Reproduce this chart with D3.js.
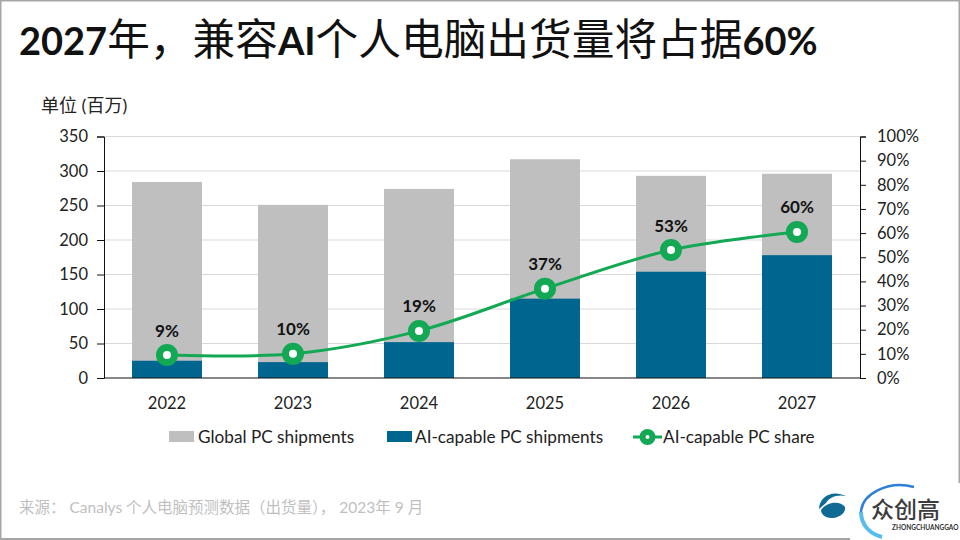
<!DOCTYPE html>
<html>
<head>
<meta charset="utf-8">
<script src="https://cdn.jsdelivr.net/npm/d3@7"></script>
<style>
  html, body { margin: 0; padding: 0; background: #fff; overflow: hidden; }
  text { font-family: Lato, "Noto Sans CJK SC", sans-serif; }
</style>
</head>
<body>
<div class="chart"></div>
<script>
const years = ["2022", "2023", "2024", "2025", "2026", "2027"]
const globalShipments = [284, 251, 274, 317, 293, 296]
const aiShipments = [25, 23, 52, 115, 154, 178]
const aiShare = [9.5, 10, 19.5, 37, 53, 60.5]
const shareLabels = ["9%", "10%", "19%", "37%", "53%", "60%"]
const leftTicks = [0, 50, 100, 150, 200, 250, 300, 350]
const rightTicks = [0, 10, 20, 30, 40, 50, 60, 70, 80, 90, 100]

const grey = "#bfbfbf"
const blue = "#00668f"
const green = "#12a854"

const svg = d3.select(".chart")
    .append("svg")
    .attr("width", 960)
    .attr("height", 540)

const x = d3.scaleBand().domain(years).range([104, 860]).paddingInner(0.4444).paddingOuter(0.2222)
const yLeft = d3.scaleLinear().domain([0, 350]).range([378, 136.5])
const yRight = d3.scaleLinear().domain([0, 100]).range([378, 136.5])

// page frame, the logo box sits over the bottom right corner
const frame = svg.append("g").attr("fill", "#a6a6a6")
frame.append("rect").attr("x", 0).attr("y", 0).attr("width", 1.5).attr("height", 540)
frame.append("rect").attr("x", 0).attr("y", 0).attr("width", 960).attr("height", 1.5)
frame.append("rect").attr("x", 0).attr("y", 538).attr("width", 850).attr("height", 2)
frame.append("rect").attr("x", 958.5).attr("y", 0).attr("width", 1.5).attr("height", 483)

// title
const title = svg.append("text")
    .attr("x", 19).attr("y", 55)
    .attr("fill", "#111")
const titleParts = [["2027", true], ["年，兼容", false], ["AI", true], ["个人电脑出货量将占据", false], ["60%", true]]
title.selectAll("tspan").data(titleParts).join("tspan")
    .attr("font-weight", d => d[1] ? 700 : 400)
    .attr("font-size", d => d[1] ? 38 : 42.7)
    .text(d => d[0])

svg.append("text").attr("x", 41).attr("y", 112)
    .attr("font-size", 18).attr("fill", "#222")
    .text("单位 (百万)")

// gridlines
svg.append("g").selectAll("line").data(leftTicks.slice(1)).join("line")
    .attr("x1", 104).attr("x2", 860)
    .attr("y1", d => yLeft(d)).attr("y2", d => yLeft(d))
    .attr("stroke", "#d9d9d9").attr("stroke-width", 1)

// bars
svg.append("g").selectAll("rect").data(years).join("rect")
    .attr("x", d => x(d)).attr("width", x.bandwidth())
    .attr("y", (d, i) => yLeft(globalShipments[i]))
    .attr("height", (d, i) => yLeft(0) - yLeft(globalShipments[i]))
    .attr("fill", grey)
svg.append("g").selectAll("rect").data(years).join("rect")
    .attr("x", d => x(d)).attr("width", x.bandwidth())
    .attr("y", (d, i) => yLeft(aiShipments[i]))
    .attr("height", (d, i) => yLeft(0) - yLeft(aiShipments[i]))
    .attr("fill", blue)

// axes
const leftAxis = svg.append("g").attr("transform", "translate(104,0)")
    .call(d3.axisLeft(yLeft).tickValues(leftTicks).tickSize(7).tickPadding(9))
leftAxis.select(".domain").attr("stroke", "#111")
leftAxis.selectAll("line").attr("stroke", "#111")
leftAxis.selectAll("text").attr("font-size", 16.5).attr("fill", "#222").style("font-family", "Lato")

const rightAxis = svg.append("g").attr("transform", "translate(860,0)")
    .call(d3.axisRight(yRight).tickValues(rightTicks).tickFormat(d => d + "%").tickSize(6).tickPadding(11))
rightAxis.select(".domain").attr("stroke", "#111")
rightAxis.selectAll("line").attr("stroke", "#111")
rightAxis.selectAll("text").attr("font-size", 16.5).attr("fill", "#222").style("font-family", "Lato")

const bottomAxis = svg.append("g").attr("transform", "translate(0,378)")
    .call(d3.axisBottom(x).tickSize(0).tickPadding(19))
bottomAxis.select(".domain").attr("stroke", "#111").attr("d", "M104,0H860")
bottomAxis.selectAll("text").attr("font-size", 16.5).attr("fill", "#222").style("font-family", "Lato")

// share line
const line = d3.line()
    .x((d, i) => x(years[i]) + x.bandwidth() / 2)
    .y(d => yRight(d))
    .curve(d3.curveCatmullRom)
svg.append("path").datum(aiShare)
    .attr("d", line)
    .attr("fill", "none").attr("stroke", green).attr("stroke-width", 3)

svg.append("g").selectAll("circle").data(aiShare).join("circle")
    .attr("cx", (d, i) => x(years[i]) + x.bandwidth() / 2)
    .attr("cy", d => yRight(d))
    .attr("r", 7.5).attr("fill", "#fff").attr("stroke", green).attr("stroke-width", 7)

svg.append("g").selectAll("text").data(aiShare).join("text")
    .attr("x", (d, i) => x(years[i]) + x.bandwidth() / 2)
    .attr("y", d => yRight(d) - 18.5)
    .attr("text-anchor", "middle")
    .attr("font-size", 17).attr("font-weight", 700).attr("fill", "#111")
    .text((d, i) => shareLabels[i])

// legend
const legend = svg.append("g")
legend.append("rect").attr("x", 169).attr("y", 431).attr("width", 25).attr("height", 11).attr("fill", grey)
legend.append("text").attr("x", 198).attr("y", 442.5).attr("font-size", 17.2).attr("fill", "#222").text("Global PC shipments")
legend.append("rect").attr("x", 387).attr("y", 431).attr("width", 25).attr("height", 11).attr("fill", blue)
legend.append("text").attr("x", 415).attr("y", 442.5).attr("font-size", 17.2).attr("fill", "#222").text("AI-capable PC shipments")
legend.append("line").attr("x1", 633).attr("x2", 662).attr("y1", 437).attr("y2", 437).attr("stroke", green).attr("stroke-width", 3)
legend.append("circle").attr("cx", 647.5).attr("cy", 437).attr("r", 5).attr("fill", "#fff").attr("stroke", green).attr("stroke-width", 6)
legend.append("text").attr("x", 663).attr("y", 442.5).attr("font-size", 17.2).attr("fill", "#222").text("AI-capable PC share")

// source
svg.append("text").attr("x", 19).attr("y", 513)
    .attr("font-size", 15.5).attr("fill", "#bfbfbf")
    .text("来源： Canalys 个人电脑预测数据（出货量）， 2023年 9 月")

// logos
const logo = svg.append("g")
logo.append("path").attr("d", "M819,509 C819,497 832,489 846,496 C836,494 829,498 826,503 Z").attr("fill", "#0f6a94")
logo.append("path").attr("d", "M821,510 C826,502 840,500 845,507 C846,514 838,518 831,518 C825,518 821,514 821,510 Z").attr("fill", "#0f6a94")
logo.append("path").attr("d", "M914,487 C888,480 862,494 861,512").attr("fill", "none").attr("stroke", "#2f7fd6").attr("stroke-width", 2.5)
logo.append("path").attr("d", "M861,512 C861,525 870,534 882,537").attr("fill", "none").attr("stroke", "#58bdee").attr("stroke-width", 4)
logo.append("text").attr("x", 871).attr("y", 518).attr("font-size", 23).attr("font-weight", 500).attr("fill", "#3c3c3c")
    .style("font-family", "Noto Sans CJK SC").text("众创高")
logo.append("text").attr("x", 892).attr("y", 530).attr("font-size", 6.5).attr("font-weight", 700).attr("fill", "#333").text("ZHONGCHUANGGAO")
</script>
</body>
</html>
